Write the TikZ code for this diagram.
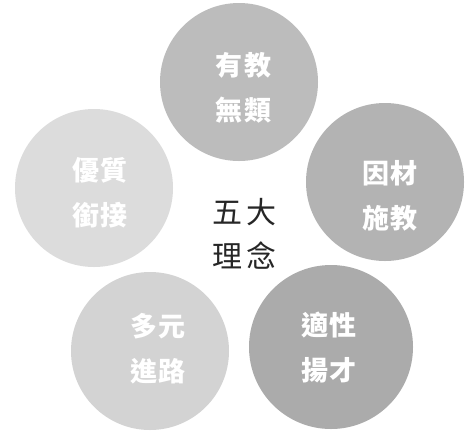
\documentclass[tikz,border=0pt]{standalone}
\usepackage{fontspec}
\newfontfamily\cjk{Noto Sans CJK TC}
\definecolor{ctop}{HTML}{BCBCBC}
\definecolor{cleft}{HTML}{DCDCDC}
\definecolor{cright}{HTML}{B3B3B3}
\definecolor{cbl}{HTML}{D3D3D3}
\definecolor{cbr}{HTML}{ABABAB}
\tikzset{
  bub/.style={circle, draw=none, inner sep=0pt, minimum size=158pt},
  wlabel/.style={text=white, font=\cjk\bfseries\fontsize{27}{45}\selectfont, align=center, inner sep=0pt},
  clabel/.style={text=black!85, font=\cjk\fontsize{30}{44}\selectfont, align=center, inner sep=0pt}
}
\newcommand{\gp}{\hspace{0.06em}}
\newcommand{\gq}{\hspace{0.15em}}
\begin{document}
\begin{tikzpicture}[x=1pt,y=-1pt]
\useasboundingbox[fill=white] (0,0) rectangle (468,432);
\node[bub, fill=ctop]   (ctop)   at (239,82)  {};
\node[bub, fill=cleft]  (cleft)  at (94,188)  {};
\node[bub, fill=cright] (cright) at (385,182) {};
\node[bub, fill=cbl]    (cbl)    at (150,351) {};
\node[bub, fill=cbr, minimum size=164pt] (cbr) at (331,347) {};
\node[wlabel] (ttop)   at (243.5,88) {有\gp 教\\無\gp 類};
\node[wlabel] (tleft)  at (100,193) {優\gp 質\\銜\gp 接};
\node[wlabel] (tright) at (390,196) {因\gp 材\\施\gp 教};
\node[wlabel] (tbl)    at (158,349) {多\gp 元\\進\gp 路};
\node[wlabel] (tbr)    at (329,347) {適\gp 性\\揚\gp 才};
\node[clabel] (center) at (244.5,234) {五\gq 大\\理\gq 念};
\end{tikzpicture}
\end{document}
